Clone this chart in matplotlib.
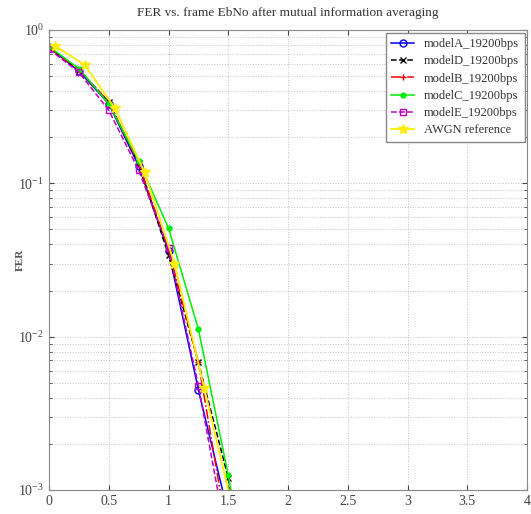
import numpy as np
import matplotlib
matplotlib.use('Agg')
import matplotlib.pyplot as plt

plt.rcParams['font.family'] = ['Liberation Serif', 'DejaVu Serif']
plt.rcParams['mathtext.fontset'] = 'stix'

# frame EbNo (dB) and FER for each channel model
ebno = [0.0, 0.25, 0.5, 0.75, 1.0, 1.25, 1.5, 1.75]
ebno_awgn = [0.05, 0.3, 0.55, 0.8, 1.05, 1.3, 1.55]

fer_modelA = [0.77, 0.54, 0.33, 0.13, 0.036, 0.0045, 0.0007]
fer_modelD = [0.77, 0.55, 0.34, 0.135, 0.034, 0.0068, 0.0012, 0.0001]
fer_modelB = [0.77, 0.55, 0.34, 0.135, 0.037, 0.0068, 0.00048]
fer_modelC = [0.78, 0.56, 0.33, 0.14, 0.051, 0.0112, 0.00125, 0.0001]
fer_modelE = [0.75, 0.53, 0.30, 0.122, 0.0376, 0.0048, 0.00042]
fer_awgn = [0.79, 0.59, 0.31, 0.118, 0.030, 0.0046, 0.00068]

series = [
    ('modelA_19200bps', fer_modelA, 'b', '-', 'o', 'none'),
    ('modelD_19200bps', fer_modelD, 'k', '--', 'x', 'k'),
    ('modelB_19200bps', fer_modelB, 'r', '-.', '+', 'r'),
    ('modelC_19200bps', fer_modelC, '#00ee00', '-', 'o', '#00ee00'),
    ('modelE_19200bps', fer_modelE, 'm', '--', 's', 'none'),
]

fig = plt.figure(figsize=(5.31, 5.14), dpi=100)
ax = fig.add_axes([0.0923, 0.0467, 0.9002, 0.8949])

for name, fer, col, ls, mk, fc in series:
    ms = 3.5 if name.startswith('modelC') else 5
    ax.semilogy(ebno[:len(fer)], fer, color=col, linestyle=ls, marker=mk,
                markerfacecolor=fc, markersize=ms, linewidth=1.1, label=name)
ax.semilogy(ebno_awgn, fer_awgn, color='#ffee00', linestyle='-', marker='*',
            markersize=7, linewidth=1.3, label='AWGN reference')

ax.set_xlim(0, 4)
ax.set_ylim(1e-3, 1)
ax.set_xticks(np.arange(0, 4.01, 0.5))
ax.set_xticklabels(['0', '0.5', '1', '1.5', '2', '2.5', '3', '3.5', '4'])
ax.grid(True, which='both', linestyle=':', color='#c4c4c4', linewidth=0.7)
ax.tick_params(which='both', direction='in', top=True, right=True,
               labelsize=10, colors='#444444')
for s in ax.spines.values():
    s.set_color('#888888')

ax.set_title('FER vs. frame EbNo after mutual information averaging',
             fontsize=9.5, color='#333333', pad=10)
ax.set_ylabel('FER', fontsize=8, fontweight='bold', color='#555555')
ax.yaxis.set_label_coords(-0.05, 0.5)

leg = ax.legend(loc='upper right', fontsize=9, handlelength=1.8,
                borderpad=0.45, labelspacing=0.42, borderaxespad=0.2,
                fancybox=False, framealpha=1, edgecolor='#888888')
for t in leg.get_texts():
    t.set_color('#333333')

fig.savefig('out.png', dpi=100)
